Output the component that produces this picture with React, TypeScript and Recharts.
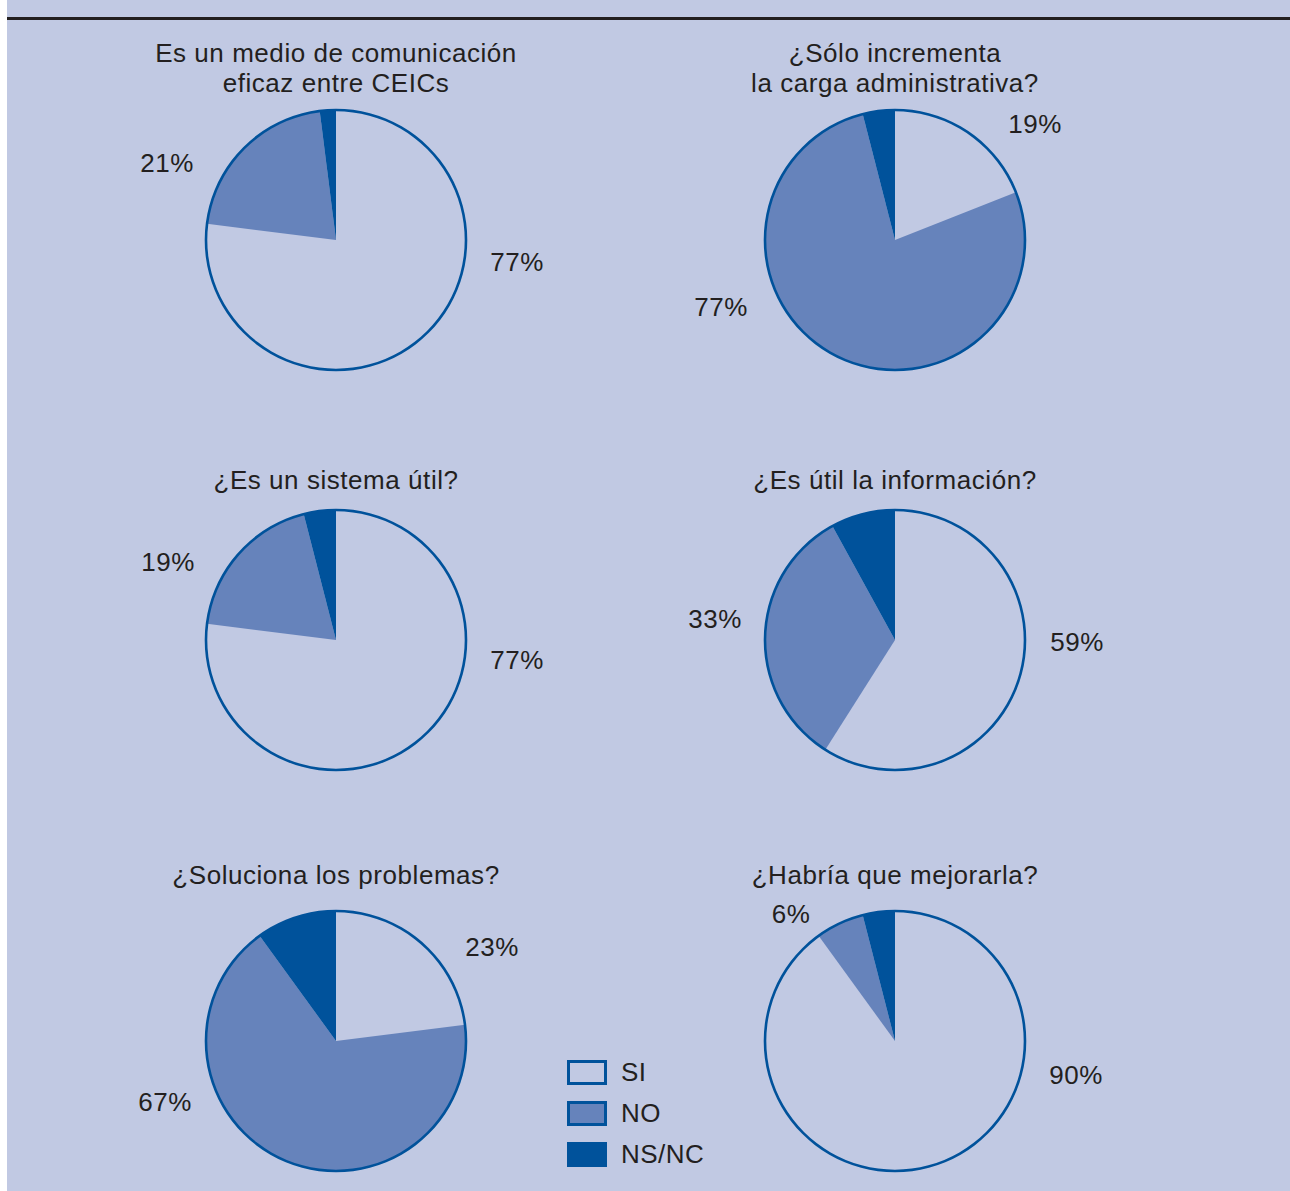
import { Cell, Legend, Pie, PieChart } from "recharts";

const CATEGORIES = ["SI", "NO", "NS/NC"];
const TITLES = [
	["Es un medio de comunicación", "eficaz entre CEICs"],
	["¿Sólo incrementa", "la carga administrativa?"],
	["¿Es un sistema útil?"],
	["¿Es útil la información?"],
	["¿Soluciona los problemas?"],
	["¿Habría que mejorarla?"],
];
const SI_VALUES = [77, 19, 77, 59, 23, 90];
const NO_VALUES = [21, 77, 19, 33, 67, 6];
const NSNC_VALUES = [2, 4, 4, 8, 10, 4];

const BG = "#c1c9e3";
const BLUE = "#00529b";
const MID = "#6683bb";
const INK = "#231f20";
const FILLS = [BG, MID, BLUE];
const FONT = "'Liberation Sans', Arial, Helvetica, sans-serif";

// label position relative to the pie centre, [SI, NO] per chart
const LABEL_OFFSETS: [number, number][][] = [
	[[181, 22], [-169, -77]],
	[[140, -116], [-174, 67]],
	[[181, 20], [-168, -78]],
	[[182, 2], [-180, -21]],
	[[156, -94], [-171, 61]],
	[[181, 34], [-104, -127]],
];

const COL_X = [336, 895];
const ROW_Y = [240, 640, 1041];
// distance from cell top to the centre of the title's last line, per row
const TITLE_Y = [43, 40, 34];
const W = 560;
const H = 400;
const R = 130;

function LegendBox() {
	return (
		<div style={{ fontFamily: FONT, fontSize: 26, color: INK }}>
			{CATEGORIES.map((c, i) => (
				<div key={c} style={{ display: "flex", alignItems: "center", height: 41 }}>
					<div
						style={{
							width: 40,
							height: 25,
							boxSizing: "border-box",
							background: FILLS[i],
							border: `3px solid ${BLUE}`,
							marginRight: 14,
						}}
					/>
					<span style={{ letterSpacing: 0.5 }}>{c}</span>
				</div>
			))}
		</div>
	);
}

function SmallPie({ idx }: { idx: number }) {
	const data = CATEGORIES.map((name, i) => ({
		name,
		value: [SI_VALUES, NO_VALUES, NSNC_VALUES][i][idx],
	}));
	const offsets = LABEL_OFFSETS[idx];
	const row = Math.floor(idx / 2);
	const left = COL_X[idx % 2] - W / 2;
	const top = ROW_Y[row] - H / 2;

	const renderLabel = (p: any) => {
		if (p.index > 1) return null;
		const [dx, dy] = offsets[p.index];
		return (
			<text
				x={p.cx + dx}
				y={p.cy + dy}
				textAnchor="middle"
				dominantBaseline="central"
				fontSize={26}
				letterSpacing={0.5}
				fill={INK}
				fontFamily={FONT}
			>
				{`${p.value}%`}
			</text>
		);
	};

	return (
		<div style={{ position: "absolute", left, top, width: W, height: H }}>
			<PieChart width={W} height={H} margin={{ top: 0, right: 0, bottom: 0, left: 0 }}>
				<Pie
					data={data}
					dataKey="value"
					cx={W / 2}
					cy={H / 2}
					outerRadius={R}
					startAngle={90}
					endAngle={-270}
					stroke="none"
					label={renderLabel}
					labelLine={false}
					isAnimationActive={false}
				>
					{data.map((d, i) => (
						<Cell key={d.name} fill={FILLS[i]} />
					))}
				</Pie>
				{/* thin ring = the blue outline round each pie */}
				<Pie
					data={[{ name: "outline", value: 1 }]}
					dataKey="value"
					cx={W / 2}
					cy={H / 2}
					innerRadius={R - 1.3}
					outerRadius={R + 1.3}
					startAngle={90}
					endAngle={-270}
					fill={BLUE}
					stroke="none"
					legendType="none"
					isAnimationActive={false}
				/>
				{idx === 4 && (
					<Legend
						content={() => <LegendBox />}
						wrapperStyle={{ position: "absolute", left: 511, top: 211, width: 200 }}
					/>
				)}
			</PieChart>
			<div
				style={{
					position: "absolute",
					left: 0,
					width: W,
					bottom: H - TITLE_Y[row] - 15,
					textAlign: "center",
					fontFamily: FONT,
					fontSize: 26,
					letterSpacing: 0.55,
					lineHeight: "30px",
					color: INK,
				}}
			>
				{TITLES[idx].map((t) => (
					<div key={t}>{t}</div>
				))}
			</div>
		</div>
	);
}

export default function App() {
	return (
		<div style={{ position: "absolute", left: 0, top: 0, width: 1290, height: 1191, background: "#fff", overflow: "hidden" }}>
			<div style={{ position: "absolute", left: 7, top: 0, right: 0, bottom: 0, background: BG }} />
			<div style={{ position: "absolute", left: 7, top: 17, right: 0, height: 3, background: INK }} />
			{TITLES.map((_, i) => (
				<SmallPie key={i} idx={i} />
			))}
		</div>
	);
}
